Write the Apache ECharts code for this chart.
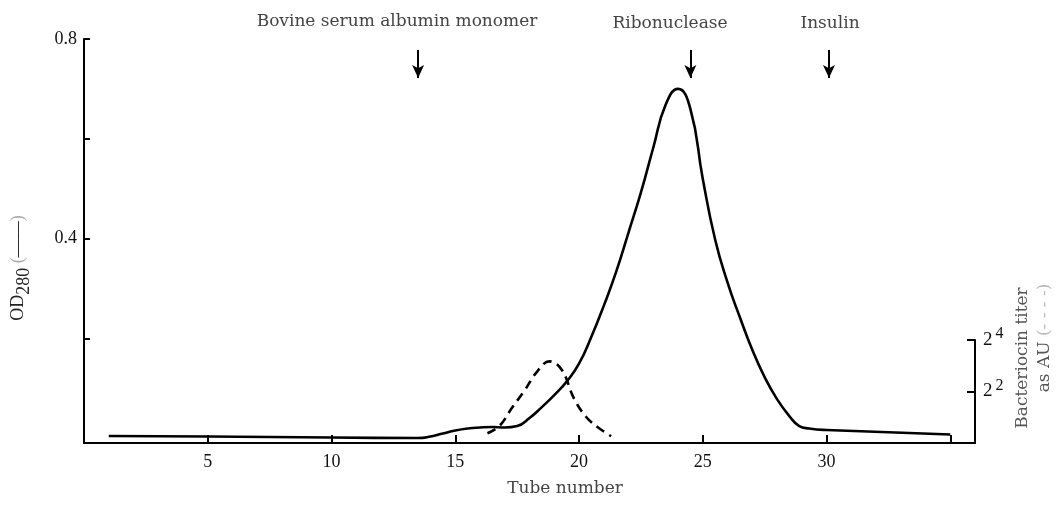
<!DOCTYPE html>
<html>
<head>
<meta charset="utf-8">
<style>
  html, body { margin: 0; padding: 0; background: #fff; }
  #chart { width: 1057px; height: 506px; }
</style>
<script src="https://cdn.jsdelivr.net/npm/echarts@6/dist/echarts.min.js"></script>
</head>
<body>
<div id="chart"></div>
<script>
// OD280 (solid line)
const tubes = [1, 5, 10, 13.5, 14, 14.5, 15, 15.5, 16, 16.5, 17, 17.5, 18, 18.5, 19, 19.5, 20, 20.5, 21, 21.5, 22, 22.5, 23, 23.5, 24, 24.5, 25, 25.5, 26, 26.5, 27, 27.5, 28, 28.5, 28.9, 29.3, 30, 35]
const od280 = [0.004, 0.003, 0.001, 0.0, 0.003, 0.009, 0.015, 0.019, 0.021, 0.022, 0.021, 0.024, 0.04, 0.062, 0.086, 0.113, 0.149, 0.203, 0.265, 0.333, 0.412, 0.492, 0.582, 0.668, 0.70, 0.66, 0.52, 0.398, 0.312, 0.242, 0.177, 0.122, 0.078, 0.044, 0.024, 0.019, 0.016, 0.007]
// bacteriocin titer (dashed line, AU)
const titerTubes = [16.3, 16.8, 17.3, 17.8, 18.3, 18.8, 19.3, 19.8, 20.3, 20.8, 21.3]
const titer = [1.3, 1.6, 2.6, 4.1, 6.8, 9.0, 7.2, 3.3, 2.0, 1.5, 1.2]
// tick labels
const xTicks = [5, 10, 15, 20, 25, 30, 35]
const xLabels = [5, 10, 15, 20, 25, 30]
const odTicks = [0.2, 0.4, 0.6, 0.8]
const odLabels = [0.4, 0.8]
const titerTicks = [4, 16]
// markers
const markerNames = ['Bovine serum albumin monomer', 'Ribonuclease', 'Insulin']
const markerTubes = [13.5, 24.5, 30.1]

const serif = 'Liberation Serif'
const serifWide = 'DejaVu Serif'

const chart = echarts.init(document.getElementById('chart'), null, { renderer: 'canvas' })

const option = {
  backgroundColor: '#fff',
  animation: false,
  grid: [
    { left: 84, right: 82, top: 39, bottom: 63 },
    { left: 84, right: 82, top: 340, bottom: 63 }
  ],
  xAxis: [{
    type: 'value',
    gridIndex: 0,
    min: 0,
    max: 36,
    axisLine: { onZero: false, lineStyle: { color: '#000', width: 2 } },
    axisTick: { inside: true, length: 8, customValues: xTicks, lineStyle: { color: '#000', width: 2 } },
    axisLabel: { customValues: xLabels, margin: 10, color: '#111', fontFamily: serif, fontSize: 18 },
    splitLine: { show: false }
  }, {
    type: 'value',
    gridIndex: 1,
    min: 0,
    max: 36,
    show: false
  }],
  yAxis: [{
    type: 'value',
    gridIndex: 0,
    position: 'left',
    min: -0.01,
    max: 0.8,
    axisLine: { show: true, onZero: false, lineStyle: { color: '#000', width: 2 } },
    axisTick: { show: true, inside: true, length: 6, customValues: odTicks, lineStyle: { color: '#000', width: 2 } },
    axisLabel: {
      customValues: odLabels,
      margin: 7,
      color: '#111',
      fontFamily: serif,
      fontSize: 18,
      formatter: v => v.toFixed(1)
    },
    splitLine: { show: false }
  }, {
    type: 'log',
    logBase: 2,
    gridIndex: 1,
    position: 'right',
    min: 1,
    max: 16,
    axisLine: { show: true, onZero: false, lineStyle: { color: '#000', width: 2 } },
    axisTick: { show: true, inside: true, length: 8, customValues: titerTicks, lineStyle: { color: '#000', width: 2 } },
    axisLabel: {
      customValues: titerTicks,
      margin: 8,
      color: '#111',
      formatter: v => '{b|2}{s|' + Math.round(Math.log2(v)) + '}',
      rich: {
        b: { fontFamily: serif, fontSize: 19 },
        s: { fontFamily: serif, fontSize: 16, padding: [0, 0, 12, 3] }
      }
    },
    splitLine: { show: false }
  }],
  series: [{
    name: 'OD280',
    type: 'line',
    xAxisIndex: 0,
    yAxisIndex: 0,
    smooth: 0.5,
    showSymbol: false,
    lineStyle: { color: '#000', width: 2.6 },
    data: tubes.map((t, i) => [t, od280[i]]),
    // 洗脱标记箭头
    markLine: {
      silent: true,
      symbol: ['none', 'arrow'],
      symbolSize: [9, 13],
      label: { show: false },
      lineStyle: { color: '#000', width: 2, type: 'solid' },
      data: markerTubes.map(t => [{ coord: [t, 0.778] }, { coord: [t, 0.722] }])
    }
  }, {
    name: 'Bacteriocin titer',
    type: 'line',
    xAxisIndex: 1,
    yAxisIndex: 1,
    smooth: 0.4,
    showSymbol: false,
    lineStyle: { color: '#000', width: 2.6, type: [9, 6] },
    data: titerTubes.map((t, i) => [t, titer[i]])
  }],
  graphic: [
    // 左轴标题
    {
      type: 'text', x: 18, y: 268, rotation: Math.PI / 2,
      style: {
        text: 'OD{sub|280} {p|(}——{p|)}',
        align: 'center', verticalAlign: 'middle',
        fontFamily: serif, fontSize: 18, fill: '#222',
        rich: {
          sub: { fontFamily: serif, fontSize: 18, padding: [12, 0, 0, 0] },
          p: { fontFamily: serif, fontSize: 18, fill: '#aaa' }
        }
      }
    },
    // 右轴标题
    {
      type: 'text', x: 1023, y: 358, rotation: Math.PI / 2,
      style: { text: 'Bacteriocin titer', align: 'center', verticalAlign: 'middle', fontFamily: serifWide, fontSize: 17, fill: '#555' }
    },
    {
      type: 'text', x: 1045, y: 338, rotation: Math.PI / 2,
      style: { text: 'as AU {p|(- - - -)}', align: 'center', verticalAlign: 'middle', fontFamily: serifWide, fontSize: 17, fill: '#555',
        rich: { p: { fontFamily: serifWide, fontSize: 17, fill: '#bbb' } } }
    },
    // 横轴标题
    {
      type: 'text', x: 565, y: 489,
      style: { text: 'Tube number', align: 'center', verticalAlign: 'middle', fontFamily: serifWide, fontSize: 17, fill: '#444' }
    },
    // 标记文字
    {
      type: 'text', x: 397, y: 22,
      style: { text: markerNames[0], align: 'center', verticalAlign: 'middle', fontFamily: serifWide, fontSize: 17, fill: '#444' }
    },
    {
      type: 'text', x: 670, y: 24,
      style: { text: markerNames[1], align: 'center', verticalAlign: 'middle', fontFamily: serifWide, fontSize: 17, fill: '#444' }
    },
    {
      type: 'text', x: 830, y: 24,
      style: { text: markerNames[2], align: 'center', verticalAlign: 'middle', fontFamily: serifWide, fontSize: 17, fill: '#444' }
    }
  ]
}

chart.setOption(option)
window.onresize = function () {
  chart.resize()
}
</script>
</body>
</html>
